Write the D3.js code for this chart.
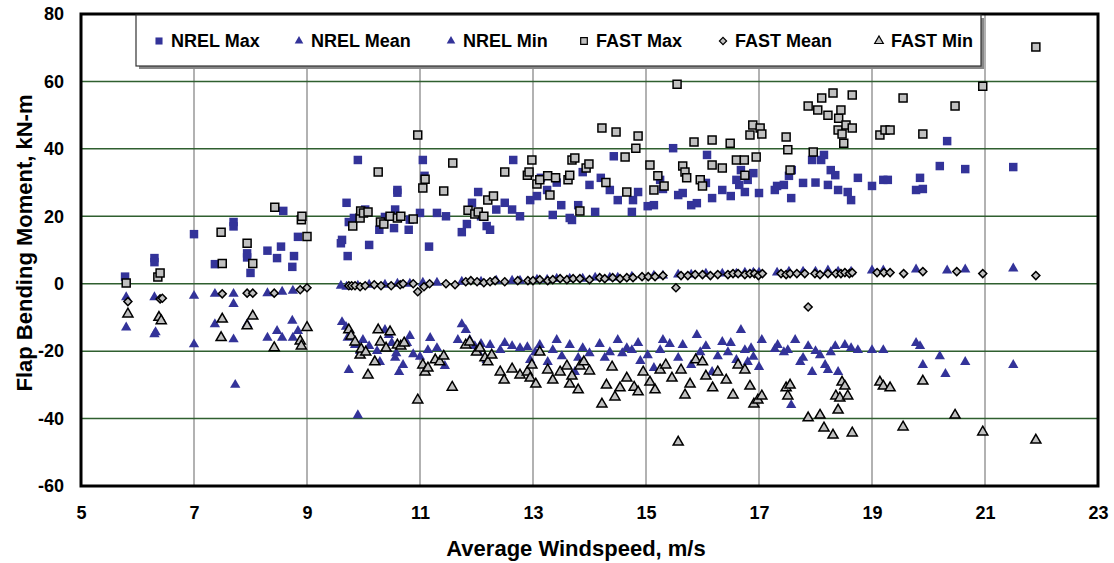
<!DOCTYPE html>
<html lang="en">
<head>
<meta charset="UTF-8">
<title>Flap Bending Moment</title>
<script src="https://d3js.org/d3.v7.min.js"></script>
<style>
  body { margin: 0; background: #fff; }
  svg text { font-family: "Liberation Sans", Arial, sans-serif; font-weight: bold; fill: #000; }
  .tick text { font-size: 18px; }
  .axis-title { font-size: 22px; }
  .legend text { font-size: 18px; }
</style>
</head>
<body>
<div id="chart"></div>
<script>
// [windspeed m/s, moment kN-m]
const nrelMax = [
  [5.78,2.1],[6.3,7.6],[6.3,6.4],[7.0,14.7],[7.37,5.8],[7.7,18.3],[7.7,17],[7.94,9],[7.94,7.8],[8.0,3.2],
  [8.3,9.8],[8.54,11],[8.58,21.6],[8.47,7.6],[8.77,8.2],[8.74,5],[8.84,13.9],[9.62,13],[9.6,12],[9.72,8.2],
  [9.7,24],[9.74,18.3],[9.9,36.7],[9.83,19.5],[10.1,11.5],[10.03,22],[10.28,16],[10.38,19.8],[10.54,16.5],[10.6,27.8],
  [10.6,27],[10.56,22],[10.8,16],[10.82,19],[11.0,21],[11.05,36.7],[11.08,32],[11.16,11],[11.3,21],[11.46,20],
  [11.74,15.3],[11.83,17.7],[11.92,24],[12.03,27.2],[12.08,20],[12.18,17.1],[12.24,16],[12.35,22],[12.5,24],[12.63,22],
  [12.65,36.7],[12.77,20],[12.95,24.8],[13.07,26],[13.14,31.4],[13.25,27.8],[13.35,20.4],[13.42,30],[13.5,23.3],[13.65,19.5],
  [13.69,18.9],[13.8,23.3],[13.88,33.1],[14.0,29.3],[14.1,21.3],[14.2,31.4],[14.36,27.8],[14.43,37.8],[14.5,24.8],[14.75,21.3],
  [14.77,24.8],[14.86,27.2],[15.03,23],[15.14,23.3],[15.25,30.8],[15.3,28.1],[15.48,40.2],[15.57,26.3],[15.65,26.9],[15.8,23.3],
  [15.9,23.9],[16.06,29.9],[16.08,38.2],[16.17,25.4],[16.35,27.8],[16.5,26],[16.6,30.8],[16.65,29.3],[16.68,33.7],[16.75,27.2],
  [16.8,30.8],[16.9,32.8],[17.0,26.9],[17.28,27.8],[17.32,29],[17.44,29.3],[17.53,32],[17.57,25.4],[17.58,33.7],[17.78,29.9],
  [17.94,36.7],[18.0,30],[18.1,36.7],[18.15,38.2],[18.22,29.3],[18.27,33.7],[18.35,32.2],[18.4,27.8],[18.57,27.2],[18.63,24.8],
  [18.75,31.4],[19.0,29],[19.2,30.8],[19.28,30.8],[19.78,27.8],[19.85,31.4],[19.9,28.1],[20.2,34.9],[20.33,42.3],[20.65,34],
  [21.5,34.6]
];
const nrelMean = [
  [5.8,-4],[6.3,-4],[7.0,-3.6],[7.37,-3],[7.7,-3],[8.3,-2.8],[8.56,-2.4],[8.75,-2.1],[9.6,-0.6],[9.7,-0.9],
  [9.9,-0.6],[10.1,-0.3],[10.38,-0.3],[10.6,0],[10.82,0],[11.05,0.3],[11.3,0.3],[11.74,0.6],[12.08,0.6],[12.35,0.9],
  [12.63,0.9],[12.77,0.9],[13.07,1.2],[13.25,1.2],[13.42,1.5],[13.65,1.5],[13.88,1.5],[14.1,1.8],[14.36,1.8],[14.5,1.8],
  [14.75,2.1],[15.14,2.4],[15.3,2.4],[15.57,2.7],[15.8,2.7],[16.06,3],[16.35,3],[16.6,3],[16.75,3.3],[16.9,3.3],
  [17.0,3.3],[17.32,3.3],[17.53,3.6],[17.78,3.6],[18.0,3.6],[18.22,3.9],[18.4,3.6],[18.63,3.6],[19.0,3.9],[19.2,3.9],
  [19.78,4.2],[20.33,3.9],[20.65,4.2],[21.5,4.5]
];
const nrelMin = [
  [5.8,-13],[6.3,-15],[6.32,-14.4],[7.0,-18],[7.37,-12],[7.7,-6],[7.7,-16.5],[7.73,-30],[7.94,-12],[8.3,-16],
  [8.47,-14],[8.56,-16],[8.74,-11],[8.84,-14],[8.75,-16],[9.62,-11.4],[9.69,-12.8],[9.72,-16],[9.74,-25.6],[9.85,-18.2],
  [9.94,-20],[9.9,-39],[9.99,-16.7],[10.1,-18.5],[10.24,-20],[10.29,-23.2],[10.38,-13.7],[10.45,-15.2],[10.5,-17.6],[10.56,-22],
  [10.58,-20.6],[10.63,-26.2],[10.7,-24.1],[10.77,-17.6],[10.82,-15.5],[10.88,-20.9],[11.0,-21.7],[11.14,-19.7],[11.18,-16.1],[11.3,-19.1],
  [11.44,-24.4],[11.67,-16.7],[11.74,-12],[11.81,-13.7],[11.88,-16.7],[11.97,-18.5],[12.03,-20.3],[12.08,-17.9],[12.18,-22.6],[12.24,-18.2],
  [12.42,-19.7],[12.5,-17.6],[12.63,-18.5],[12.77,-19.1],[12.9,-18.8],[12.95,-22.6],[13.04,-20.3],[13.12,-18.2],[13.26,-23.2],[13.35,-19.7],
  [13.42,-16.7],[13.51,-21.5],[13.65,-18.2],[13.74,-26.2],[13.8,-22],[13.88,-19.1],[14.0,-20.6],[14.18,-17.9],[14.27,-22],[14.36,-20.3],
  [14.5,-16.7],[14.58,-20.6],[14.66,-19.1],[14.75,-19.7],[14.86,-17.6],[14.9,-22.9],[15.03,-21.2],[15.14,-25],[15.25,-19.7],[15.3,-16.7],
  [15.42,-17.9],[15.57,-22],[15.65,-18.2],[15.8,-24.1],[15.9,-15.2],[15.96,-20.3],[16.06,-18.5],[16.17,-26.2],[16.27,-21.5],[16.35,-17.3],
  [16.45,-20.3],[16.5,-17.6],[16.6,-22.6],[16.68,-13.7],[16.75,-19.7],[16.8,-23.2],[16.86,-19.1],[16.9,-21.7],[17.0,-24.7],[17.05,-16.7],
  [17.28,-19.4],[17.33,-18.2],[17.44,-20.3],[17.51,-19.7],[17.57,-36],[17.64,-16.7],[17.73,-23.2],[17.78,-22],[17.87,-18.5],[17.94,-26.2],
  [18.0,-20],[18.08,-21.2],[18.17,-24.1],[18.22,-25.6],[18.27,-20.3],[18.35,-18.5],[18.4,-26.2],[18.52,-18.2],[18.63,-19.1],[18.75,-19.7],
  [19.0,-19.7],[19.2,-19.7],[19.78,-17.6],[19.85,-18.5],[19.9,-24.1],[20.2,-21.5],[20.3,-26.8],[20.65,-23.2],[21.5,-24.1]
];
const fastMax = [
  [5.8,0.2],[6.36,2],[6.4,3.2],[7.48,15.3],[7.5,6],[7.94,12],[8.04,6],[8.43,22.7],[8.9,19],[8.91,20],
  [9.0,14],[9.81,17.1],[9.94,19.5],[9.95,21.6],[10.0,21],[10.08,21.3],[10.26,33.1],[10.3,18.3],[10.36,17.7],[10.47,20],
  [10.6,19.5],[10.66,20],[10.88,19.2],[10.96,44.1],[11.05,28.4],[11.09,31],[11.42,27.5],[11.58,35.8],[11.85,21.8],[11.97,20.7],
  [12.03,21.3],[12.13,20],[12.2,24.8],[12.3,26],[12.5,33.1],[12.9,32.2],[12.93,33.1],[12.98,36.7],[13.07,29.6],[13.12,30.8],
  [13.26,32],[13.3,26.3],[13.4,31.4],[13.62,30.8],[13.65,32.2],[13.69,36.7],[13.74,37.3],[13.83,21.6],[13.94,34.3],[13.99,35.5],
  [14.22,46.2],[14.29,30],[14.47,45],[14.63,37.6],[14.66,27.2],[14.82,40.2],[14.86,43.8],[15.07,35.2],[15.14,27.8],[15.21,32],
  [15.32,29],[15.55,59.2],[15.65,34.9],[15.69,33.1],[15.72,31.4],[15.85,42],[15.96,30.8],[16.0,29],[16.17,35.2],[16.17,42.6],
  [16.35,34.3],[16.49,41.7],[16.6,36.7],[16.74,36.7],[16.75,32.2],[16.84,44.1],[16.89,47.1],[16.95,37.6],[17.02,46.2],[17.05,44.4],
  [17.48,43.5],[17.51,39.7],[17.55,33.7],[17.87,52.7],[17.96,39.1],[18.04,51.5],[18.11,55.1],[18.22,50],[18.31,56.6],[18.4,45.6],
  [18.41,49.1],[18.45,51.5],[18.47,44.4],[18.5,41.7],[18.54,47.1],[18.65,56],[18.65,46.2],[19.14,44.1],[19.23,45.6],[19.32,45.6],
  [19.55,55.1],[19.9,44.4],[20.47,52.7],[20.96,58.6],[21.9,70.2]
];
const fastMean = [
  [5.83,-5.3],[6.4,-4.5],[6.44,-4.3],[7.5,-3],[7.94,-2.8],[8.04,-2.8],[8.42,-2.8],[8.88,-1.8],[9.0,-1.2],[9.74,-0.6],
  [9.79,-0.6],[9.85,-0.6],[9.94,-0.9],[10.03,-0.6],[10.19,-0.3],[10.31,-0.6],[10.49,-0.6],[10.65,-0.3],[10.7,0],[10.88,0],
  [10.96,-2.4],[11.07,-0.9],[11.17,0],[11.46,0],[11.62,-0.3],[11.81,0.6],[11.9,0.9],[12.01,0.6],[12.13,0.3],[12.24,0.6],
  [12.33,0.9],[12.5,0.6],[12.73,0.9],[12.91,0.9],[13.0,0.9],[13.12,1.2],[13.26,0.9],[13.35,1.2],[13.48,1.5],[13.6,1.2],
  [13.71,1.5],[13.83,1.5],[14.0,1.2],[14.18,1.8],[14.27,1.5],[14.41,1.8],[14.54,1.5],[14.66,1.8],[14.77,1.8],[14.93,2.1],
  [15.04,2.1],[15.16,2.1],[15.3,2.4],[15.53,-1.2],[15.62,2.4],[15.74,2.4],[15.87,2.7],[16.0,2.7],[16.14,2.4],[16.27,2.7],
  [16.45,2.7],[16.54,3],[16.63,3],[16.75,2.7],[16.84,3],[16.92,3],[16.99,2.4],[17.06,3],[17.39,3],[17.48,2.7],
  [17.55,3],[17.67,3],[17.81,3],[17.87,-6.9],[17.99,3],[18.08,2.7],[18.22,3],[18.36,3],[18.45,3],[18.52,3.3],
  [18.6,3],[18.65,3.3],[19.09,3.3],[19.21,3.3],[19.32,3.3],[19.56,3],[19.9,3.6],[20.5,3.6],[20.96,3],[21.9,2.4]
];
const fastMin = [
  [5.83,-9],[6.38,-10],[6.42,-11],[7.5,-10.5],[7.48,-16],[8.04,-9.6],[7.94,-12.5],[8.42,-19],[8.88,-17],[8.9,-18.5],
  [9.0,-13],[9.74,-13.7],[9.78,-15.5],[9.85,-17.3],[9.94,-21.2],[9.96,-19.4],[10.04,-20.3],[10.08,-27.1],[10.2,-23.2],[10.26,-13.7],
  [10.3,-17.3],[10.4,-19.1],[10.47,-14.3],[10.6,-18.2],[10.66,-18.5],[10.72,-17.6],[10.96,-34.5],[11.05,-24.1],[11.09,-26.2],[11.14,-25],
  [11.27,-22.6],[11.35,-23.2],[11.42,-21.5],[11.57,-30.7],[11.81,-18.2],[11.88,-17.3],[12.0,-20.3],[12.06,-19.1],[12.15,-22],[12.2,-23.2],
  [12.27,-21.2],[12.42,-26.2],[12.49,-28.6],[12.63,-25.3],[12.77,-27.1],[12.9,-26.2],[12.95,-28],[12.98,-24.1],[13.05,-29.8],[13.12,-20.3],
  [13.26,-25.6],[13.35,-28.6],[13.48,-26.2],[13.6,-24.4],[13.65,-29.8],[13.69,-27.4],[13.8,-31.5],[13.83,-24.4],[13.9,-23.2],[14.0,-25.9],
  [14.22,-35.7],[14.3,-30.1],[14.4,-24.7],[14.45,-33.6],[14.54,-30.9],[14.66,-28],[14.79,-30.7],[14.86,-32.1],[14.95,-26.2],[15.07,-29.2],
  [15.16,-31.5],[15.25,-25.6],[15.35,-24.1],[15.46,-28],[15.57,-47],[15.62,-25.6],[15.69,-33],[15.78,-29.8],[15.88,-22.6],[16.0,-23.2],
  [16.06,-27.4],[16.18,-30.9],[16.27,-26.2],[16.42,-28.6],[16.54,-33],[16.63,-24.1],[16.75,-25.6],[16.84,-30.4],[16.91,-35.7],[16.98,-34.5],
  [17.05,-33.3],[17.48,-30.9],[17.51,-33.3],[17.55,-30.1],[17.87,-39.8],[18.08,-39],[18.15,-42.8],[18.31,-44.9],[18.36,-33.3],[18.4,-37.5],
  [18.43,-33.9],[18.47,-29.2],[18.52,-30.4],[18.57,-33.3],[18.65,-44.3],[19.14,-29.2],[19.2,-30.4],[19.32,-30.9],[19.55,-42.5],[19.9,-28.9],
  [20.47,-39],[20.96,-44],[21.9,-46.4]
];

const xTicks = [5, 7, 9, 11, 13, 15, 17, 19, 21, 23];
const yTicks = [-60, -40, -20, 0, 20, 40, 60, 80];
const seriesNames = ["NREL Max", "NREL Mean", "NREL Min", "FAST Max", "FAST Mean", "FAST Min"];

const W = 1114, H = 563;
const margin = {top: 14, right: 16, bottom: 77, left: 81};
const width = W - margin.left - margin.right,
      height = H - margin.top - margin.bottom;

const blue = "#333399", grey = "#c0c0c0";

// marker styles per series
const styles = [
  {shape: "square",   size: 72, fill: blue, stroke: "none", lsize: 50},
  {shape: "triangle", size: 46, fill: blue, stroke: "none", lsize: 32},
  {shape: "triangle", size: 46, fill: blue, stroke: "none", lsize: 32},
  {shape: "square",   size: 64, fill: grey, stroke: "#000", lsize: 44},
  {shape: "diamond",  size: 32, fill: grey, stroke: "#000", lsize: 26},
  {shape: "triangle", size: 44, fill: grey, stroke: "#000", lsize: 32}
];
const allData = [nrelMax, nrelMean, nrelMin, fastMax, fastMean, fastMin];

function symbolPath(st, size) {
  const type = st.shape === "triangle" ? d3.symbolTriangle : d3.symbolSquare;
  return d3.symbol().type(type).size(size)();
}

const svg = d3.select("#chart").append("svg")
    .attr("width", W)
    .attr("height", H);

const g = svg.append("g")
    .attr("transform", `translate(${margin.left},${margin.top})`);

const x = d3.scaleLinear().domain([5, 23]).range([0, width]);
const y = d3.scaleLinear().domain([-60, 80]).range([height, 0]);

// gridlines
g.append("g").selectAll("line")
    .data(xTicks.slice(1, -1))
    .enter().append("line")
    .attr("x1", d => x(d)).attr("x2", d => x(d))
    .attr("y1", 0).attr("y2", height)
    .attr("stroke", "#999").attr("stroke-width", 1.5);

g.append("g").selectAll("line")
    .data(yTicks.slice(1, -1))
    .enter().append("line")
    .attr("x1", 0).attr("x2", width)
    .attr("y1", d => y(d)).attr("y2", d => y(d))
    .attr("stroke", "#2f5f2f").attr("stroke-width", 1.5);

// axes (plain hyphen for negatives, like the original)
const xAxis = g.append("g")
    .attr("transform", `translate(0,${height})`)
    .call(d3.axisBottom(x).tickValues(xTicks).tickSize(0).tickPadding(20).tickFormat(d => String(d)));
xAxis.select(".domain").remove();

const yAxis = g.append("g")
    .call(d3.axisLeft(y).tickValues(yTicks).tickSize(0).tickPadding(17).tickFormat(d => String(d)));
yAxis.select(".domain").remove();

// points
allData.forEach((data, i) => {
  const st = styles[i];
  const path = symbolPath(st, st.size);
  g.append("g").selectAll("path")
      .data(data)
      .enter().append("path")
      .attr("d", path)
      .attr("transform", d => `translate(${x(d[0])},${y(d[1])})` + (st.shape === "diamond" ? " rotate(45)" : ""))
      .attr("fill", st.fill)
      .attr("stroke", st.stroke)
      .attr("stroke-width", 1.5);
});

// frame
g.append("rect")
    .attr("width", width).attr("height", height)
    .attr("fill", "none").attr("stroke", "#000").attr("stroke-width", 3);

// legend
const legend = svg.append("g").attr("class", "legend");
legend.append("rect")
    .attr("x", 139).attr("y", 18).attr("width", 845).attr("height", 51)
    .attr("fill", "#888");
legend.append("rect")
    .attr("x", 136).attr("y", 15).attr("width", 845).attr("height", 51)
    .attr("fill", "#fff").attr("stroke", "#333").attr("stroke-width", 1.2);

const legendX = [159, 299, 451, 584, 723, 879];
seriesNames.forEach((name, i) => {
  const st = styles[i];
  const item = legend.append("g").attr("transform", `translate(${legendX[i]},41)`);
  item.append("path")
      .attr("d", symbolPath(st, st.lsize))
      .attr("transform", st.shape === "diamond" ? "rotate(45)" : null)
      .attr("fill", st.fill)
      .attr("stroke", st.stroke)
      .attr("stroke-width", 1.2);
  item.append("text")
      .attr("x", 12)
      .attr("dy", "0.35em")
      .text(name);
});

// axis titles
svg.append("text")
    .attr("class", "axis-title")
    .attr("x", 576)
    .attr("y", 556)
    .attr("text-anchor", "middle")
    .text("Average Windspeed, m/s");

svg.append("text")
    .attr("class", "axis-title")
    .attr("transform", "translate(32,243) rotate(-90)")
    .attr("text-anchor", "middle")
    .text("Flap Bending Moment, kN-m");
</script>
</body>
</html>
